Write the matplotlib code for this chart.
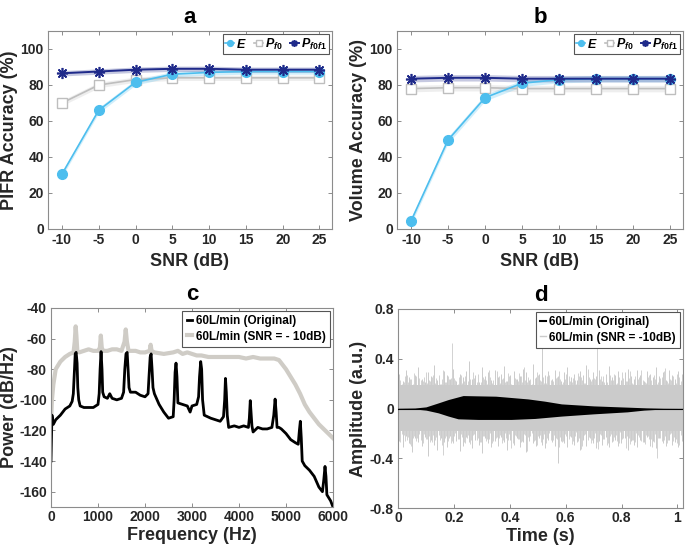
import numpy as np
import matplotlib
matplotlib.use("Agg")
import matplotlib.pyplot as plt
from matplotlib.lines import Line2D

plt.rcParams['font.family'] = ['Liberation Sans', 'DejaVu Sans']
plt.rcParams['font.weight'] = 'bold'
plt.rcParams['mathtext.fontset'] = 'custom'
plt.rcParams['mathtext.it'] = 'Liberation Sans:italic:bold'
plt.rcParams['mathtext.rm'] = 'Liberation Sans:bold'

# ---------------- data ----------------
snr = [-10, -5, 0, 5, 10, 15, 20, 25]
snr_ticks = [-10, -5, 0, 5, 10, 15, 20, 25]

pifr_E = [30.5, 66, 81.5, 86, 87, 87.5, 87.5, 87.5]
pifr_Pf0 = [70, 80, 83, 84, 84, 84, 84, 84]
pifr_Pf0f1 = [86.5, 87.5, 88.5, 89, 89, 88.5, 88.5, 88.5]
pifr_band = [1.5, 1.5, 1.5, 1.5, 1.5, 1.5, 1.5, 1.5]

vol_E = [4.5, 49.5, 73, 81, 83, 83.5, 83.5, 83.5]
vol_Pf0 = [78, 78.5, 78.5, 78, 78, 78, 78, 78]
vol_Pf0f1 = [83.5, 84, 84, 83.5, 83.5, 83.5, 83.5, 83.5]
vol_band = [1.8, 1.8, 1.8, 1.8, 1.8, 1.8, 1.8, 1.8]

# panel c: spectrum (Hz, dB/Hz)
orig_f = [0, 20, 50, 100, 200, 300, 400, 450, 475, 500, 515, 535, 555, 570, 590, 620, 700, 800, 900, 1000,
          1025, 1045, 1065, 1085, 1100, 1130, 1200, 1250, 1300, 1400, 1500, 1545, 1570, 1595, 1620, 1640, 1660,
          1690, 1800, 1900, 2000, 2065, 2085, 2110, 2130, 2150, 2170, 2200, 2300, 2400, 2500, 2600, 2620, 2640,
          2660, 2680, 2700, 2800, 2900, 2960, 3000, 3100, 3140, 3160, 3185, 3205, 3225, 3260, 3400, 3500, 3600,
          3670, 3695, 3712, 3730, 3750, 3780, 3900, 4000, 4100, 4200, 4220, 4240, 4260, 4275, 4300, 4400, 4500,
          4600, 4700, 4740, 4768, 4790, 4810, 4850, 4900, 5000, 5100, 5200, 5260, 5285, 5305, 5325, 5345, 5400,
          5500, 5600, 5700, 5775, 5805, 5830, 5850, 5870, 5950, 6000]
orig_p = [-140, -110, -116, -113, -110, -106, -104, -101, -96, -80, -70, -69, -76, -92, -100, -104, -105, -105, -105, -103,
          -96, -80, -68.5, -80, -95, -98, -99, -96, -99, -100, -99, -95, -80, -70, -69, -80, -92,
          -95, -95, -97, -98, -96, -85, -72, -70, -80, -92, -96, -103, -108, -112, -111, -100, -82,
          -76, -85, -102, -103, -104, -108, -104, -103, -98, -85, -75, -80, -100, -110, -112, -113, -114,
          -111, -100, -86, -95, -110, -118, -117, -118, -117, -118, -112, -100.5, -110, -117, -121, -118, -119,
          -119, -118, -110, -99.5, -108, -118, -118, -119, -122, -126, -128, -129, -120, -114, -125, -140, -143,
          -146, -150, -157, -160, -152, -143.5, -150, -162, -166, -170]

noisy_f = [0, 20, 50, 100, 200, 300, 400, 480, 505, 525, 540, 560, 600, 700, 800, 900, 1000, 1040, 1060, 1080,
           1110, 1200, 1300, 1400, 1500, 1565, 1590, 1615, 1650, 1800, 1900, 2000, 2100, 2120, 2140, 2200, 2400,
           2600, 2700, 2800, 2900, 3000, 3100, 3200, 3350, 3500, 3650, 3800, 4000, 4150, 4300, 4450, 4600, 4750,
           4850, 4900, 5000, 5100, 5200, 5300, 5400, 5500, 5600, 5700, 5800, 5900, 6000]
noisy_p = [-115, -100, -90, -80, -75, -72, -70, -69, -62, -52, -58, -68, -69, -68, -67, -68, -68, -66, -58, -66,
           -68, -68, -67, -67, -68, -62, -54, -62, -68, -68, -69, -69, -68, -64, -68, -69, -70,
           -69, -68, -70, -69, -70, -71, -71, -72, -72, -72, -72, -72, -73, -72, -73, -73, -73,
           -74, -76, -80, -85, -90, -96, -103, -108, -112, -116, -119, -122, -125]

# panel d: envelopes (time s, amplitude a.u.)
orig_up_t = [0, 0.06, 0.1, 0.144, 0.18, 0.233, 0.35, 0.465, 0.525, 0.585, 0.70, 0.82, 0.89, 0.95, 1.02]
orig_up = [0.002, 0.004, 0.013, 0.045, 0.072, 0.104, 0.099, 0.077, 0.059, 0.037, 0.021, 0.011, 0.005, 0.002, 0.001]
orig_lo_t = [0, 0.06, 0.1, 0.144, 0.18, 0.215, 0.287, 0.405, 0.49, 0.585, 0.70, 0.82, 0.88, 0.95, 1.02]
orig_lo = [-0.002, -0.004, -0.013, -0.035, -0.061, -0.083, -0.088, -0.088, -0.08, -0.061, -0.043, -0.027, -0.013, -0.004, -0.001]

noise_core_t = [0, 0.25, 0.5, 0.75, 1.02]
noise_core_up = [0.19, 0.19, 0.19, 0.19, 0.19]
noise_core_lo = [-0.18, -0.18, -0.18, -0.18, -0.18]
noise_spike_up = [0.28, 0.22, 0.31, 0.25, 0.19, 0.27, 0.33, 0.24, 0.21, 0.29,
                  0.26, 0.35, 0.23, 0.20, 0.30, 0.27, 0.24, 0.32, 0.22, 0.28,
                  0.25, 0.30, 0.38, 0.24, 0.27, 0.21, 0.33, 0.26, 0.29, 0.23,
                  0.31, 0.25, 0.28, 0.34, 0.22, 0.27, 0.30, 0.24, 0.26, 0.32,
                  0.29, 0.23, 0.36, 0.25, 0.28, 0.62, 0.27, 0.30, 0.24, 0.31,
                  0.26, 0.22, 0.29, 0.33, 0.25, 0.28, 0.23, 0.30, 0.27, 0.35,
                  0.24, 0.29, 0.26, 0.31, 0.22, 0.28, 0.34, 0.25, 0.27, 0.30,
                  0.23, 0.29, 0.32, 0.26, 0.24, 0.31, 0.27, 0.22, 0.30, 0.28,
                  0.25, 0.33, 0.26, 0.29, 0.23, 0.31, 0.27, 0.24, 0.30, 0.28]
noise_spike_lo = [-0.26, -0.31, -0.22, -0.28, -0.35, -0.24, -0.27, -0.30, -0.23, -0.38,
                  -0.25, -0.29, -0.33, -0.24, -0.27, -0.31, -0.22, -0.28, -0.26, -0.34,
                  -0.30, -0.23, -0.27, -0.32, -0.25, -0.29, -0.36, -0.24, -0.28, -0.31,
                  -0.26, -0.30, -0.23, -0.27, -0.33, -0.25, -0.29, -0.24, -0.31, -0.27,
                  -0.35, -0.26, -0.28, -0.30, -0.24, -0.29, -0.32, -0.25, -0.27, -0.30,
                  -0.44, -0.26, -0.28, -0.31, -0.23, -0.29, -0.27, -0.33, -0.25, -0.30,
                  -0.24, -0.28, -0.32, -0.26, -0.29, -0.23, -0.31, -0.27, -0.25, -0.30,
                  -0.28, -0.24, -0.33, -0.26, -0.29, -0.31, -0.25, -0.27, -0.23, -0.30,
                  -0.26, -0.32, -0.24, -0.28, -0.30, -0.25, -0.29, -0.27, -0.31, -0.26]
noise_spike_t = np.linspace(0.005, 1.015, len(noise_spike_up))

# ---------------- style ----------------
W, H = 685, 553
fig = plt.figure(figsize=(W / 100, H / 100), dpi=100)

C_E = '#4DBEEE'
C_P0 = '#BEBEBE'
C_P01 = '#1F2A8A'
SPINE = '#8C8C8C'
TXT = '#262626'
NOISE = '#CBCBCB'


def make_ax(l, r, t, b, xpad=3):
    ax = fig.add_axes([l / W, (H - b) / H, (r - l) / W, (b - t) / H])
    for s in ax.spines.values():
        s.set_color(SPINE)
        s.set_linewidth(0.8)
    ax.tick_params(direction='in', length=3, width=0.7, color=SPINE, labelcolor=TXT,
                   labelsize=10, top=True, right=True, pad=3)
    ax.tick_params(axis='x', pad=xpad)
    return ax


def labels(ax, xl, yl, title, ylx, xly):
    ax.set_xlabel(xl, fontsize=13, fontweight='bold', color=TXT)
    ax.set_ylabel(yl, fontsize=13, fontweight='bold', color=TXT)
    ax.yaxis.set_label_coords(ylx, 0.5)
    ax.xaxis.set_label_coords(0.5, xly)
    ax.set_title(title, fontsize=16, fontweight='bold', pad=6)


def acc_panel(ax, E, P0, P01, band, ylabel, title, ylx):
    x = np.array(snr)
    bd = np.array(band)
    for y, c in [(P0, C_P0), (E, C_E), (P01, C_P01)]:
        y = np.array(y)
        ax.fill_between(x, y - bd, y + bd, color=c, alpha=0.25, lw=0)
    ax.plot(x, P0, color=C_P0, lw=1.2, marker='s', ms=7, mfc='white', mec=C_P0, mew=1.0,
            label='$P_{f0}$')
    ax.plot(x, E, color=C_E, lw=1.2, marker='o', ms=7, mfc=C_E, mec=C_E, label='$E$')
    ax.plot(x, P01, color=C_P01, lw=1.4, marker=(8, 2, 0), ms=8, mec=C_P01, mew=1.2,
            label='$P_{f0f1}$')
    ax.set_xlim(-11.9, 26.7)
    ax.set_ylim(0, 110)
    ax.set_xticks(snr_ticks)
    ax.set_xticklabels([str(v) for v in snr_ticks], fontweight='bold')
    ax.set_yticks([0, 20, 40, 60, 80, 100])
    ax.set_yticklabels(['0', '20', '40', '60', '80', '100'], fontweight='bold')
    labels(ax, 'SNR (dB)', ylabel, title, ylx, -0.12)
    h, l = ax.get_legend_handles_labels()
    order = [1, 0, 2]
    leg = ax.legend([h[i] for i in order], [l[i] for i in order], loc='upper right', ncol=3,
                    fontsize=9, handlelength=0.7, handletextpad=0.15, columnspacing=0.6,
                    borderpad=0.2, borderaxespad=0.25, fancybox=False, framealpha=1,
                    edgecolor='#555555', markerscale=0.6)
    leg.get_frame().set_linewidth(0.8)


axa = make_ax(48, 332, 31, 229)
acc_panel(axa, pifr_E, pifr_Pf0, pifr_Pf0f1, pifr_band, 'PIFR Accuracy (%)', 'a', -0.105)
axb = make_ax(397, 683, 31, 229)
acc_panel(axb, vol_E, vol_Pf0, vol_Pf0f1, vol_band, 'Volume Accuracy (%)', 'b', -0.105)

# panel c
axc = make_ax(51, 333, 308, 507, xpad=2)
axc.plot(noisy_f, noisy_p, color='#CFCCC6', lw=3, solid_joinstyle='round')
axc.plot(orig_f, orig_p, color='black', lw=2, solid_joinstyle='round')
axc.set_xlim(0, 6000)
axc.set_ylim(-170, -40)
axc.set_xticks([0, 1000, 2000, 3000, 4000, 5000, 6000])
axc.set_xticklabels(['0', '1000', '2000', '3000', '4000', '5000', '6000'], fontweight='bold')
axc.set_yticks([-160, -140, -120, -100, -80, -60, -40])
axc.set_yticklabels(['-160', '-140', '-120', '-100', '-80', '-60', '-40'], fontweight='bold')
labels(axc, 'Frequency (Hz)', 'Power (dB/Hz)', 'c', -0.118, -0.098)
hc = [Line2D([], [], color='black', lw=2), Line2D([], [], color='#CFCCC6', lw=3)]
legc = axc.legend(hc, ['60L/min (Original)', '60L/min (SNR = - 10dB)'], loc='upper right',
                  fontsize=8.5, handlelength=0.5, handletextpad=0.3, borderpad=0.35, labelspacing=0.3,
                  borderaxespad=0.25, fancybox=False, framealpha=1, edgecolor='#555555')
legc.get_frame().set_linewidth(0.8)

# panel d
axd = make_ax(398, 683, 309, 508, xpad=2)
axd.fill_between(noise_core_t, noise_core_lo, noise_core_up, color=NOISE, lw=0, zorder=1)
axd.vlines(noise_spike_t, noise_spike_lo, noise_spike_up, color=NOISE, lw=0.7, zorder=1)
axd.vlines(noise_spike_t + 0.0038, np.roll(noise_spike_lo, 31) * 0.9,
           np.roll(noise_spike_up, 17) * 0.88, color=NOISE, lw=0.6, zorder=1)
axd.vlines(noise_spike_t + 0.0076, np.roll(noise_spike_lo, 53) * 0.85,
           np.roll(noise_spike_up, 61) * 0.85, color=NOISE, lw=0.6, zorder=1)
axd.fill_between(orig_up_t, 0, orig_up, color='black', lw=0, zorder=3)
axd.fill_between(orig_lo_t, orig_lo, 0, color='black', lw=0, zorder=3)
axd.axhline(0, color='black', lw=0.8, zorder=3)
axd.set_xlim(0, 1.02)
axd.set_ylim(-0.8, 0.8)
axd.set_xticks([0, 0.2, 0.4, 0.6, 0.8, 1])
axd.set_xticklabels(['0', '0.2', '0.4', '0.6', '0.8', '1'], fontweight='bold')
axd.set_yticks([-0.8, -0.4, 0, 0.4, 0.8])
axd.set_yticklabels(['-0.8', '-0.4', '0', '0.4', '0.8'], fontweight='bold')
labels(axd, 'Time (s)', 'Amplitude (a.u.)', 'd', -0.108, -0.098)
hd = [Line2D([], [], color='black', lw=1.5), Line2D([], [], color=NOISE, lw=1)]
legd = axd.legend(hd, ['60L/min (Original)', '60L/min (SNR = -10dB)'], loc='upper right',
                  fontsize=8.5, handlelength=0.5, handletextpad=0.3, borderpad=0.35, labelspacing=0.3,
                  borderaxespad=0.25, fancybox=False, framealpha=1, edgecolor='#555555')
legd.get_frame().set_linewidth(0.8)
legd.set_zorder(5)

fig.savefig('out.png', dpi=100)
